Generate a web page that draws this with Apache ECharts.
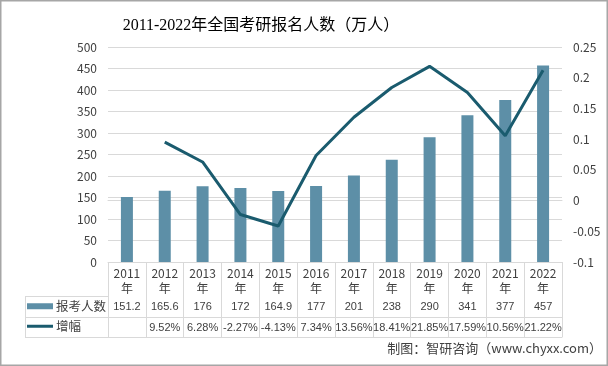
<!DOCTYPE html>
<html><head><meta charset="utf-8">
<script src="https://cdn.jsdelivr.net/npm/echarts@6/dist/echarts.min.js"></script>
<style>html,body{margin:0;padding:0;background:#fff}#c{width:608px;height:366px}</style>
</head><body><div id="c"></div>
<script>
var years = ['2011','2012','2013','2014','2015','2016','2017','2018','2019','2020','2021','2022'];
var applicants = [151.2,165.6,176,172,164.9,177,201,238,290,341,377,457];
var growth = [null,0.0952,0.0628,-0.0227,-0.0413,0.0734,0.1356,0.1841,0.2185,0.1759,0.1056,0.2122];
var growthLabels = ['','9.52%','6.28%','-2.27%','-4.13%','7.34%','13.56%','18.41%','21.85%','17.59%','10.56%','21.22%'];
var leftTicks = {min:0,max:500,interval:50};
var rightTicks = {min:-0.1,max:0.25,interval:0.05};

var gridCol = '#d9d9d9';
var txt = '#404040';
var cjk = "'Noto Sans CJK SC','Liberation Sans',sans-serif";
var num = "'Liberation Sans','Noto Sans CJK SC',sans-serif";
var chart = echarts.init(document.getElementById('c'));
function tableAxis(offset, labels){
  return {type:'category', data:years, position:'bottom', offset:offset, gridIndex:0,
    axisLine:{show:true,lineStyle:{color:gridCol,width:1}},
    axisTick:{show:false},
    axisLabel:{show:!!labels, interval:0, margin:5, fontSize:11, color:txt, fontFamily:num,
      formatter:function(v,i){return labels?String(labels[i]):'';}},
    splitLine:{show:false}};
}
chart.setOption({
  animation:false,
  title:{text:'2011-2022年全国考研报名人数（万人）', left:256, textAlign:'center', top:13,
    textStyle:{fontSize:16, fontWeight:'normal', color:'#000', fontFamily:"'Liberation Serif','Noto Sans CJK SC',serif"}},
  grid:{left:108, right:46, top:47, bottom:104},
  legend:[
    {data:[{name:'报考人数',icon:'rect'}], left:27, top:300, itemWidth:26, itemHeight:6, padding:[0,0,0,0],
     textStyle:{fontSize:12.5,color:txt,fontFamily:cjk,padding:[0,0,0,-2]}},
    {data:[{name:'增幅',icon:'rect'}], left:27, top:320, itemWidth:26, itemHeight:3, padding:[0,0,0,0],
     textStyle:{fontSize:12.5,color:txt,fontFamily:cjk,padding:[0,0,0,-2]}}
  ],
  xAxis:[
    {type:'category', data:years, boundaryGap:true,
     axisLine:{lineStyle:{color:gridCol}},
     axisTick:{show:true, interval:0, length:75, lineStyle:{color:gridCol}},
     axisLabel:{interval:0, margin:4, fontSize:12, color:txt, lineHeight:15, fontFamily:cjk,
       formatter:function(v){return v+'\n年';}}},
    tableAxis(34, applicants),
    tableAxis(55, growthLabels),
    tableAxis(75, null)
  ],
  yAxis:[
    {type:'value', min:leftTicks.min, max:leftTicks.max, interval:leftTicks.interval,
     axisLine:{show:false}, axisTick:{show:false},
     axisLabel:{margin:11, fontSize:12, color:txt, fontFamily:cjk},
     splitLine:{lineStyle:{color:gridCol}}},
    {type:'value', min:rightTicks.min, max:rightTicks.max, interval:rightTicks.interval,
     axisLine:{show:false}, axisTick:{show:false},
     axisLabel:{margin:11, fontSize:12, color:txt, fontFamily:cjk,
       formatter:function(v){return String(Math.round(v*100)/100);}},
     splitLine:{show:false}}
  ],
  series:[
    {name:'报考人数', type:'bar', data:applicants, barWidth:12, itemStyle:{color:'#5d8fa7'}},
    {name:'增幅', type:'line', yAxisIndex:1, data:growth.map(function(v){return v===null?'-':v;}),
     symbol:'none', lineStyle:{width:3,color:'#1a5b6e'}, itemStyle:{color:'#1a5b6e'}}
  ],
  graphic:[
    {type:'rect', shape:{x:0.5,y:0.5,width:607,height:365}, style:{fill:'none',stroke:'#a6a6a6',lineWidth:2}, silent:true},
    {type:'line', shape:{x1:25,y1:296.5,x2:108,y2:296.5}, style:{stroke:gridCol,lineWidth:1}},
    {type:'line', shape:{x1:25,y1:317.5,x2:108,y2:317.5}, style:{stroke:gridCol,lineWidth:1}},
    {type:'line', shape:{x1:25,y1:337.5,x2:108,y2:337.5}, style:{stroke:gridCol,lineWidth:1}},
    {type:'line', shape:{x1:25.5,y1:296,x2:25.5,y2:338}, style:{stroke:gridCol,lineWidth:1}},
    {type:'text', right:6, top:342, style:{text:'制图：智研咨询（www.chyxx.com）', fontSize:13, fill:'#404040', fontFamily:cjk}}
  ]
});
</script></body></html>
